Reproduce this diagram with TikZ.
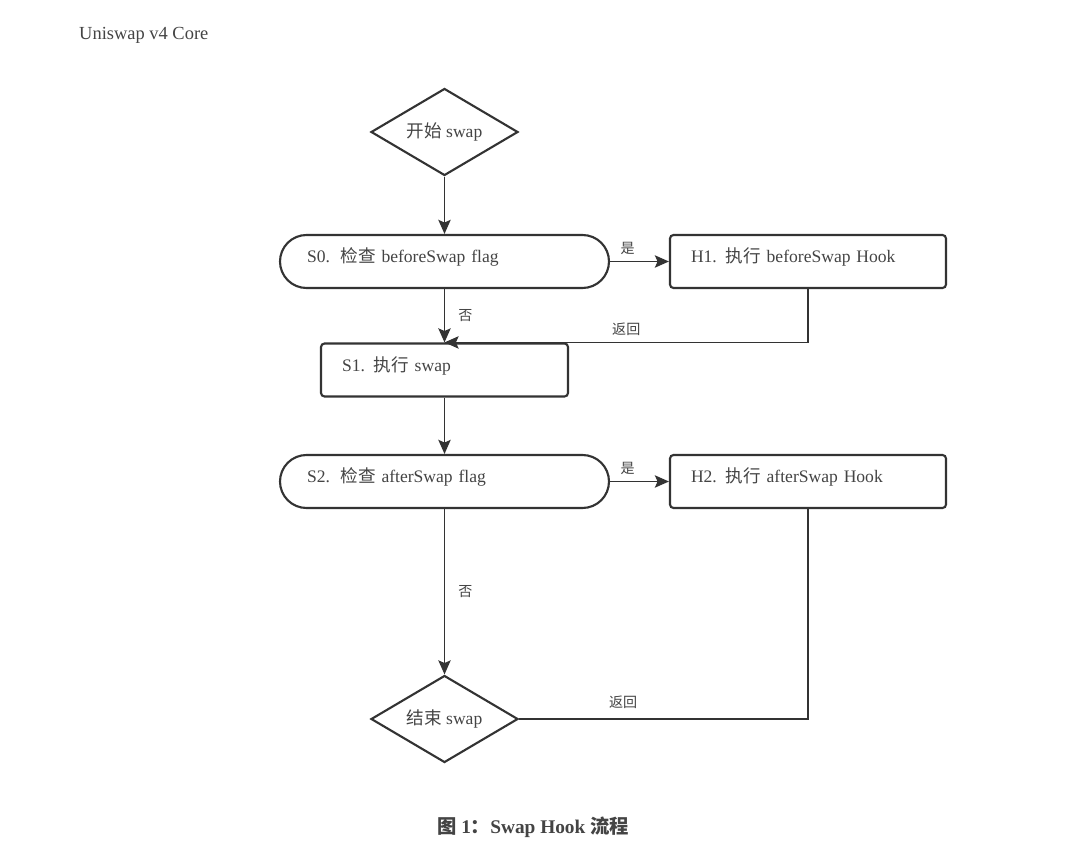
\documentclass[tikz,border=0pt]{standalone}
\usepackage{fontspec}
\setmainfont{Liberation Serif}
\newfontfamily\cjk{Noto Sans CJK SC}
\newcommand{\zh}[1]{{\cjk #1}}
\usepackage{xcolor}
\usetikzlibrary{arrows.meta,shapes.geometric}
\definecolor{linegray}{HTML}{333333}
\definecolor{textgray}{HTML}{444444}

\begin{document}
\begin{tikzpicture}[>={Stealth[length=8pt,width=7pt,inset=1.5pt]},
  line/.style={draw=linegray,line width=1pt},
  arrow/.style={line,->},
  term/.style={diamond,aspect=1.7,draw=linegray,line width=1.2pt,text=textgray,minimum width=2.94cm,minimum height=1.74cm,inner sep=0pt},
  check/.style={draw=linegray,line width=1.2pt,text=textgray,rounded corners=0.53cm,minimum height=1.06cm,inner ysep=0pt,inner xsep=0.54cm,align=left,text height=0.8em,text depth=0.65em},
  action/.style={draw=linegray,line width=1.2pt,text=textgray,rounded corners=2pt,minimum height=1.06cm,inner ysep=0pt,inner xsep=0.42cm,align=left,text height=0.8em,text depth=0.65em},
  lbl/.style={font=\footnotesize,text=textgray},
]
\fill[white] (0,0) rectangle (21.6,17.22);
\useasboundingbox (0,0) rectangle (21.6,17.22);
% title
\node[anchor=west,text=textgray,font=\fontsize{10.5}{12}\selectfont] (title) at (1.46,16.52) {Uniswap v4 Core};
% flow nodes
\node[term] (start) at (8.89,14.58) {\zh{开始} swap};
\node[check,text width=5.5cm] (s0) at (8.89,11.99) {S0.\hspace{0.6em}\zh{检查} beforeSwap flag};
\node[action,text width=4.68cm] (h1) at (16.16,11.99) {H1.\hspace{0.5em}\zh{执行} beforeSwap Hook};
\node[action,text width=4.1cm] (s1) at (8.89,9.82) {S1.\hspace{0.5em}\zh{执行} swap};
\node[check,text width=5.5cm] (s2) at (8.89,7.59) {S2.\hspace{0.6em}\zh{检查} afterSwap flag};
\node[action,text width=4.68cm] (h2) at (16.16,7.59) {H2.\hspace{0.5em}\zh{执行} afterSwap Hook};
\node[term] (end) at (8.89,2.84) {\zh{结束} swap};
% connectors
\draw[arrow] (start) -- (s0);
\draw[arrow] (s0) -- (h1) node[lbl,pos=0.3,above]{\zh{是}};
\draw[arrow] (s0) -- (s1) node[lbl,midway,right,xshift=4pt]{\zh{否}};
\draw[arrow] (h1.south) |- (s1.north) node[lbl,pos=0.75,above]{\zh{返回}};
\draw[arrow] (s1) -- (s2);
\draw[arrow] (s2) -- (h2) node[lbl,pos=0.3,above]{\zh{是}};
\draw[arrow] (s2) -- (end) node[lbl,midway,right,xshift=4pt]{\zh{否}};
\draw[line] (h2.south) |- (end.east) node[lbl,pos=0.82,above,yshift=2pt]{\zh{返回}};
% caption
\node[text=textgray,font=\fontsize{11}{13}\selectfont\bfseries] (caption) at (10.66,0.68) {\zh{图} 1\zh{：}Swap Hook \zh{流程}};
\end{tikzpicture}
\end{document}
